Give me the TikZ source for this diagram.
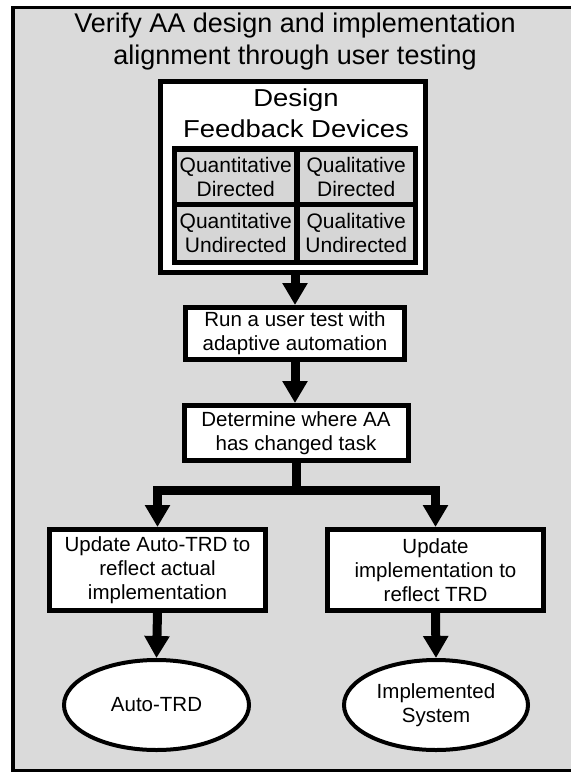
\documentclass[tikz,border=0pt]{standalone}
\usepackage{fontspec}
\setmainfont{Liberation Sans}
\newfontfamily\headfont[FakeStretch=1.12]{Liberation Sans}
\usetikzlibrary{arrows.meta,shapes.geometric}
\definecolor{panel}{RGB}{218,218,218}
\definecolor{cellgray}{RGB}{214,214,214}
\tikzset{
  box/.style={draw=black, line width=5pt, fill=white, inner sep=0pt, align=center,
              font=\fontsize{20.5}{24}\selectfont},
  cell/.style={draw=black, line width=5.5pt, fill=cellgray, inner sep=0pt, align=center,
               font=\fontsize{21}{24}\selectfont},
  oval/.style={draw=black, line width=4pt, fill=white, ellipse, inner sep=0pt, align=center,
               font=\fontsize{20.5}{23.5}\selectfont},
  flow/.style={line width=9pt, line join=miter,
               -{Triangle[width=24pt,length=22pt]}},
  plain/.style={line width=9pt}
}
\begin{document}
\begin{tikzpicture}[x=1pt,y=-1pt]
\useasboundingbox (0,0) rectangle (571,772);
\fill[white] (0,0) rectangle (571,772);
% outer panel, open on the right where it runs off the page
\fill[panel] (13,7.5) rectangle (571,770.5);
\draw[line width=3.5pt] (571,7.5) -- (13,7.5) -- (13,770.5) -- (571,770.5);

\node[align=center, font=\fontsize{27}{32}\selectfont] (title) at (295,41.5)
  {Verify AA design and implementation\\alignment through user testing};

% design feedback devices
\node[box, minimum width=265pt, minimum height=191pt] (design) at (293,177) {};
\node[align=center, inner sep=0pt, font=\headfont\fontsize{24.5}{31}\selectfont] (dtitle) at (296,113.5)
  {Design\\Feedback Devices};
\node[cell, minimum width=122.5pt, minimum height=55.5pt] (qd) at (235.75,176.5) {Quantitative\\Directed};
\node[cell, minimum width=118.5pt, minimum height=55.5pt] (ld) at (356.25,176.5) {Qualitative\\Directed};
\node[cell, minimum width=122.5pt, minimum height=58pt] (qu) at (235.75,233.25) {Quantitative\\Undirected};
\node[cell, minimum width=118.5pt, minimum height=58pt] (lu) at (356.25,233.25) {Qualitative\\Undirected};

% process steps
\node[box, minimum width=219pt, minimum height=52pt] (run) at (295,333.5)
  {Run a user test with\\adaptive automation};
\node[box, minimum width=224pt, minimum height=55pt] (det) at (296,433)
  {Determine where AA\\has changed task};
\node[box, minimum width=216pt, minimum height=81pt] (upd) at (157.5,570)
  {Update Auto-TRD to\\reflect actual\\implementation};
\node[box, minimum width=216pt, minimum height=81pt] (imp) at (435.5,570)
  {Update\\implementation to\\reflect TRD};

% results
\node[oval, minimum width=185pt, minimum height=90pt] (auto) at (156.5,705) {Auto-TRD};
\node[oval, minimum width=184pt, minimum height=90pt] (sys) at (436,705) {Implemented\\System};

% connectors
\coordinate (split) at (296,490);
\draw[flow] (design.south -| run.north) -- (run.north);
\draw[flow] (run.south) -- (run.south |- det.north);
\draw[plain] (det.south -| split) -- ([yshift=4.5pt]split);
\draw[flow] (split) -| (upd.north);
\draw[flow] (split) -| (imp.north);
\draw[flow] (upd.south) -- (auto.north);
\draw[flow] (imp.south) -- (sys.north);
\end{tikzpicture}
\end{document}
